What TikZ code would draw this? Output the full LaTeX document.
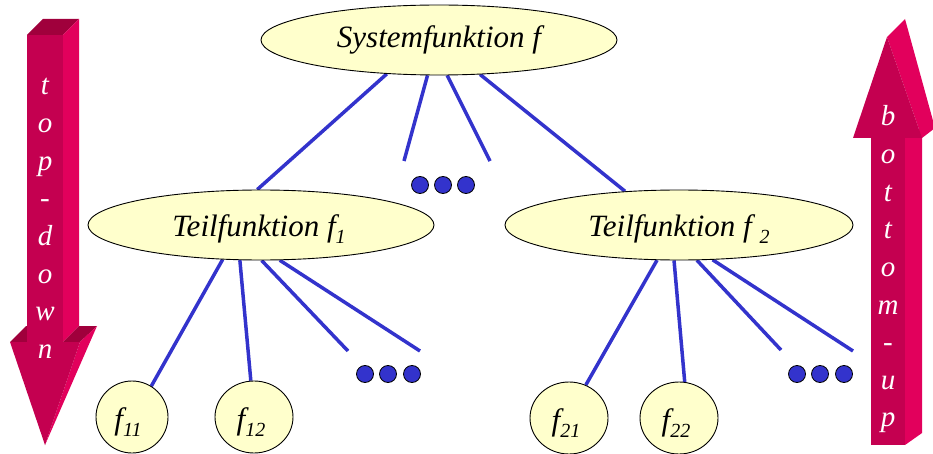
\documentclass[tikz,border=0pt]{standalone}
\usepackage{fontspec}
\setmainfont{Liberation Serif}
\usetikzlibrary{shapes.geometric,backgrounds}
\definecolor{lineblue}{RGB}{51,51,204}
\definecolor{ellfill}{RGB}{255,255,204}
\definecolor{arrfront}{RGB}{196,0,80}
\definecolor{arrside}{RGB}{226,0,92}
\definecolor{arrtop}{RGB}{160,0,60}
\newcommand\subx[1]{\raisebox{-0.25em}{\fontsize{20}{20}\selectfont #1}}
\begin{document}
\begin{tikzpicture}[x=1pt,y=-1pt,
  funcbox/.style={ellipse, draw=black, line width=0.9pt, fill=ellfill, inner sep=0pt, font=\itshape\fontsize{31}{31}\selectfont},
  link/.style={draw=lineblue, line width=3.5pt},
  dotnode/.style={circle, draw=black, line width=0.8pt, fill=lineblue, minimum size=17pt, inner sep=0pt},
  arrletter/.style={text=white, anchor=base, inner sep=0pt, font=\itshape\fontsize{29}{29}\selectfont}]
\path[use as bounding box] (0,0) rectangle (933,454);
% left arrow (top-down)
\fill[arrtop] (27,35) -- (43,19) -- (79,19) -- (63,35) -- cycle;
\fill[arrside] (63,35) -- (79,19) -- (79,326) -- (63,342) -- cycle;
\fill[arrtop] (10,342) -- (27,342) -- (43,326) -- (26,326) -- cycle;
\fill[arrtop] (63,342) -- (80,342) -- (97,326) -- (79,326) -- cycle;
\fill[arrfront] (27,35) rectangle (63,342);
\fill[arrside] (80,342) -- (97,326) -- (45,445) -- cycle;
\fill[arrfront] (10,342) -- (80,342) -- (45,445) -- cycle;
\foreach \l [count=\i] in {t,o,p,-,d,o,w,n}
  \node[arrletter] (td\i) at ({45},{95+37.6*(\i-1)}) {\l};
% right arrow (bottom-up)
\fill[arrside] (905,138) -- (922,128) -- (922,433) -- (905,445) -- cycle;
\fill[arrfront] (871,138) rectangle (905,445);
\fill[arrside] (887,37) -- (905,19) -- (935,128) -- (922,138) -- cycle;
\fill[arrfront] (853,138) -- (922,138) -- (887,37) -- cycle;
\foreach \l [count=\i] in {b,o,t,t,o,m,-,u,p}
  \node[arrletter] (bu\i) at ({888},{126+37.6*(\i-1)}) {\l};
% function nodes
\node[funcbox, minimum width=356pt, minimum height=70pt] (sys) at (439,40) {Systemfunktion f};
\node[funcbox, minimum width=346pt, minimum height=70pt] (t1) at (261,225) {};
\node[funcbox, minimum width=348pt, minimum height=70pt] (t2) at (679,225) {};
\node[funcbox, minimum width=72pt, minimum height=72pt] (f11) at (132,417) {};
\node[funcbox, minimum width=78pt, minimum height=72pt] (f12) at (254,417) {};
\node[funcbox, minimum width=78pt, minimum height=72pt] (f21) at (569,418) {};
\node[funcbox, minimum width=78pt, minimum height=72pt] (f22) at (679,418) {};
\node[font=\itshape\fontsize{31}{31}\selectfont, inner sep=0pt] (t1txt) at (259,229) {Teilfunktion f\subx{1}};
\node[font=\itshape\fontsize{31}{31}\selectfont, inner sep=0pt] (t2txt) at (679,229) {Teilfunktion f \subx{2}};
\node[font=\itshape\fontsize{31}{31}\selectfont, inner sep=0pt] (f11txt) at (128,422) {f\subx{11}};
\node[font=\itshape\fontsize{31}{31}\selectfont, inner sep=0pt] (f12txt) at (251,422) {f\subx{12}};
\node[font=\itshape\fontsize{31}{31}\selectfont, inner sep=0pt] (f21txt) at (566,423) {f\subx{21}};
\node[font=\itshape\fontsize{31}{31}\selectfont, inner sep=0pt] (f22txt) at (676,423) {f\subx{22}};
% dots
\node[dotnode] (da1) at (420,185) {};
\node[dotnode] (da2) at (443,185) {};
\node[dotnode] (da3) at (466,185) {};
\node[dotnode] (db1) at (365,374) {};
\node[dotnode] (db2) at (388,374) {};
\node[dotnode] (db3) at (412,374) {};
\node[dotnode] (dc1) at (797,374) {};
\node[dotnode] (dc2) at (820,374) {};
\node[dotnode] (dc3) at (844,374) {};
% free ends
\coordinate (e1) at (404,161);
\coordinate (e2) at (490,161);
\coordinate (e3) at (348,351);
\coordinate (e4) at (420,351);
\coordinate (e5) at (781,350);
\coordinate (e6) at (853,351);
\begin{scope}[on background layer]
\draw[link] (sys.213) -- (t1.96);
\draw[link] (sys.252) -- (e1);
\draw[link] (sys.283) -- (e2);
\draw[link] (sys.320) -- (t2.148);
\draw[link] (t1.222) -- (f11.58);
\draw[link] (t1.239) -- (f12.95);
\draw[link] (t1.271) -- (e3);
\draw[link] (t1.298) -- (e4);
\draw[link] (t2.238) -- (f21.63);
\draw[link] (t2.262) -- (f22.81);
\draw[link] (t2.297) -- (e5);
\draw[link] (t2.314) -- (e6);
\end{scope}
\end{tikzpicture}
\end{document}
